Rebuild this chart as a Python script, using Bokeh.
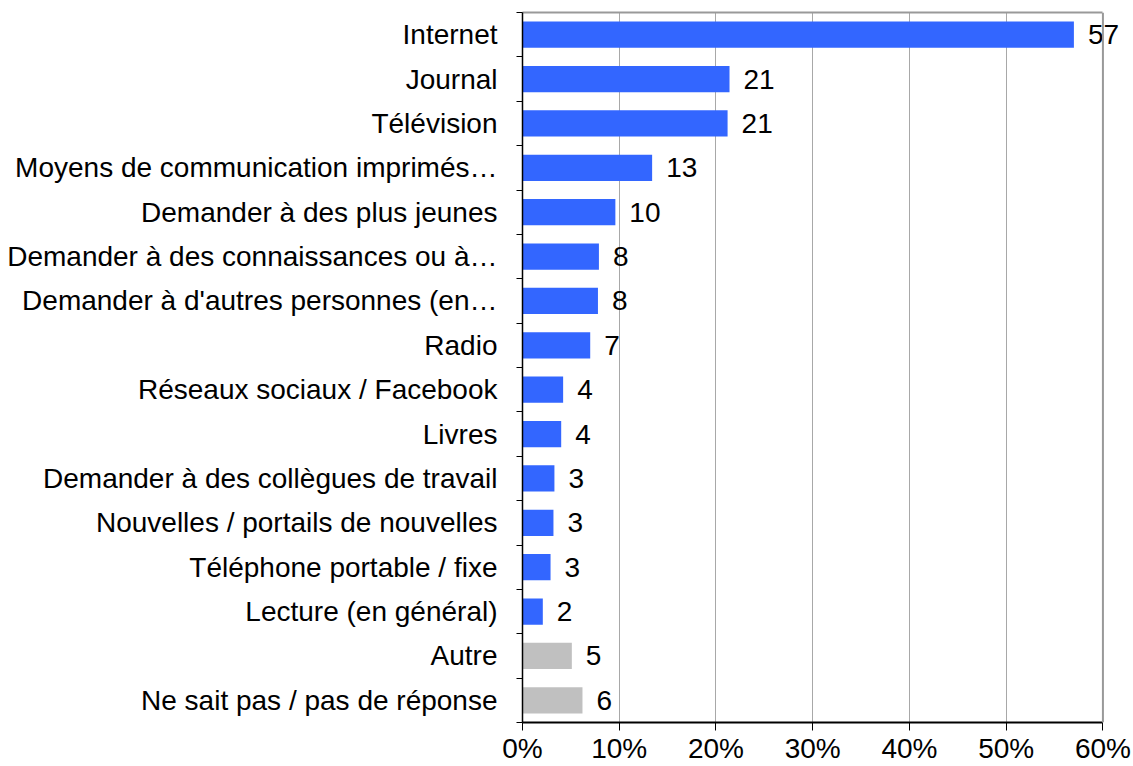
from bokeh.plotting import figure
from bokeh.models import (ColumnDataSource, Range1d, FixedTicker, PrintfTickFormatter,
                          LinearAxis, Span)
from bokeh.core.properties import value
from bokeh.embed import file_html
from bokeh.resources import INLINE

categories = [
    "Internet",
    "Journal",
    "Télévision",
    "Moyens de communication imprimés…",
    "Demander à des plus jeunes",
    "Demander à des connaissances ou à…",
    "Demander à d'autres personnes (en…",
    "Radio",
    "Réseaux sociaux / Facebook",
    "Livres",
    "Demander à des collègues de travail",
    "Nouvelles / portails de nouvelles",
    "Téléphone portable / fixe",
    "Lecture (en général)",
    "Autre",
    "Ne sait pas / pas de réponse",
]
values = [57.0, 21.4, 21.2, 13.4, 9.6, 7.9, 7.8, 7.0, 4.2, 4.0, 3.3, 3.2, 2.9, 2.1, 5.1, 6.2]
labels = ["57", "21", "21", "13", "10", "8", "8", "7", "4", "4", "3", "3", "3", "2", "5", "6"]
groups = ["main"] * 14 + ["other"] * 2
x_ticks = [0, 10, 20, 30, 40, 50, 60]
X_MAX = 60

BLUE = "#3366ff"
GREY = "#c0c0c0"
FRAME_GREY = "#999999"
FONT = "Liberation Sans"

idx = list(range(len(categories)))
colors = [BLUE if g == "main" else GREY for g in groups]
src = ColumnDataSource(dict(y=idx, v=values, lab=labels, color=colors))

# the drawing area runs a little past 60% so the "57" label is not cut off
p = figure(width=1133, height=766, output_backend="svg", toolbar_location=None,
           x_range=Range1d(0, X_MAX * 1.032), y_range=Range1d(len(categories) - 0.5, -0.5),
           min_border_left=522, min_border_right=12, min_border_top=12, min_border_bottom=4)

p.hbar(y="y", left=0, right="v", height=0.59, color="color", line_color=None, source=src)
p.text(x="v", y="y", text="lab", x_offset=14, text_baseline="middle", text_align="left",
       text_font=value(FONT), text_font_size="28px", text_color="black", source=src)

# y axis
yax = p.yaxis[0]
yax.ticker = FixedTicker(ticks=idx, minor_ticks=[i - 0.5 for i in range(len(categories) + 1)])
yax.major_label_overrides = {i: c for i, c in enumerate(categories)}
yax.major_tick_line_color = None
yax.major_tick_out = 0
yax.minor_tick_line_color = "black"
yax.minor_tick_out = 6
yax.minor_tick_in = 0
yax.major_label_standoff = 19
yax.major_label_text_font = FONT
yax.major_label_text_font_size = "28px"
yax.major_label_text_color = "black"
yax.axis_line_color = "black"
yax.axis_line_width = 1.5

# x axis
xax = p.xaxis[0]
xax.ticker = FixedTicker(ticks=x_ticks)
xax.bounds = (0, X_MAX)
xax.formatter = PrintfTickFormatter(format="%d%%")
xax.major_tick_out = 8
xax.major_tick_in = 0
xax.minor_tick_line_color = None
xax.major_tick_line_color = "black"
xax.major_label_standoff = 2
xax.major_label_text_font = FONT
xax.major_label_text_font_size = "28px"
xax.major_label_text_color = "black"
xax.axis_line_color = "black"
xax.axis_line_width = 2

# grey top border (0..60) drawn as a bare axis
top = LinearAxis(ticker=FixedTicker(ticks=[]), bounds=(0, X_MAX),
                 axis_line_color=FRAME_GREY, axis_line_width=2,
                 major_tick_line_color=None, minor_tick_line_color=None)
p.add_layout(top, "above")

p.ygrid.grid_line_color = None
p.xgrid.ticker = FixedTicker(ticks=x_ticks[1:-1])
p.xgrid.grid_line_color = "#a8a8a8"
p.xgrid.grid_line_width = 1
p.add_layout(Span(location=X_MAX, dimension="height", line_color=FRAME_GREY, line_width=2))
p.outline_line_color = None
p.background_fill_color = "white"
p.border_fill_color = "white"

open("out.html", "w").write(file_html(p, INLINE))
